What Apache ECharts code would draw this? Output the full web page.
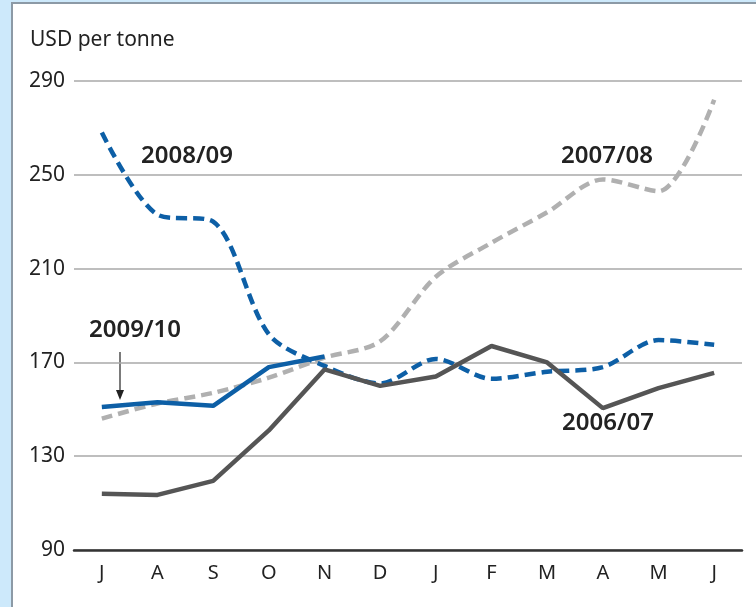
<!DOCTYPE html>
<html>
<head>
<meta charset="utf-8">
<script src="https://cdn.jsdelivr.net/npm/echarts@6/dist/echarts.min.js"></script>
<style>
  html, body { margin: 0; padding: 0; width: 756px; height: 607px; overflow: hidden; background: #cde9fb; }
  #panel { position: absolute; left: 11px; top: 2px; width: 760px; height: 620px; background: #ffffff; border-left: 2px solid #8c9aa6; border-top: 2px solid #8c9aa6; }
  #chart { position: absolute; left: 0; top: 0; width: 756px; height: 607px; }
</style>
</head>
<body>
<div id="panel"></div>
<div id="chart"></div>
<script>
const months = ['J', 'A', 'S', 'O', 'N', 'D', 'J', 'F', 'M', 'A', 'M', 'J'];
const yTicks = [90, 130, 170, 210, 250, 290];
const s2006 = [114, 113.5, 119.5, 141, 167, 160, 164, 177, 170, 150.5, 159, 165.5];
const s2007 = [146, 152.5, 157, 163.5, 172, 179, 206.5, 221, 234, 248, 243, 282];
const s2008 = [268, 233, 230, 182, 168.5, 161, 171.5, 163, 166, 168, 179.5, 177.5];
const s2009 = [151, 153, 151.5, 168, 172.5, null, null, null, null, null, null, null];

const FONT = 'Noto Sans';
const chart = echarts.init(document.getElementById('chart'), null, { renderer: 'canvas' });
chart.setOption({
  backgroundColor: 'transparent',
  animation: false,
  textStyle: { fontFamily: FONT },
  title: { text: 'USD per tonne', left: 25, top: 25, textStyle: { color: '#222', fontSize: 21, fontWeight: 'normal', fontFamily: FONT } },
  grid: { left: 74, right: 14, top: 81, bottom: 57 },
  xAxis: {
    type: 'category',
    data: months,
    boundaryGap: true,
    axisLine: { lineStyle: { color: '#333', width: 2.5 } },
    axisTick: { inside: true, alignWithLabel: true, length: 9, lineStyle: { color: '#333', width: 2 } },
    axisLabel: { color: '#222', fontSize: 20, margin: 13, fontFamily: FONT }
  },
  yAxis: {
    type: 'value',
    min: yTicks[0],
    max: yTicks[yTicks.length - 1],
    interval: 40,
    axisLine: { show: false },
    axisTick: { show: false },
    axisLabel: { color: '#222', fontSize: 21, margin: 9, fontFamily: FONT },
    splitLine: { lineStyle: { color: '#a8a8a8', width: 1.5 } }
  },
  series: [
    { name: '2007/08', type: 'line', data: s2007, smooth: 0.3, symbol: 'none', z: 2,
      lineStyle: { color: '#b0b0b0', width: 4.5, type: [11, 6] } },
    { name: '2008/09', type: 'line', data: s2008, smooth: 0.3, symbol: 'none', z: 3,
      lineStyle: { color: '#0d5fa6', width: 4.5, type: [11, 6] } },
    { name: '2006/07', type: 'line', data: s2006, symbol: 'none', z: 4,
      lineStyle: { color: '#555555', width: 4.5 } },
    { name: '2009/10', type: 'line', data: s2009, symbol: 'none', z: 5,
      lineStyle: { color: '#0d5fa6', width: 4.5 } }
  ],
  graphic: [
    { type: 'text', left: 141, top: 144, style: { text: '2008/09', fontSize: 24, fontWeight: 600, fill: '#222', fontFamily: FONT } },
    { type: 'text', left: 561, top: 144, style: { text: '2007/08', fontSize: 24, fontWeight: 600, fill: '#222', fontFamily: FONT } },
    { type: 'text', left: 89, top: 318, style: { text: '2009/10', fontSize: 24, fontWeight: 600, fill: '#222', fontFamily: FONT } },
    { type: 'text', left: 562, top: 411, style: { text: '2006/07', fontSize: 24, fontWeight: 600, fill: '#222', fontFamily: FONT } },
    { type: 'line', shape: { x1: 120, y1: 352, x2: 120, y2: 394 }, style: { stroke: '#222', lineWidth: 1.2 } },
    { type: 'polygon', shape: { points: [[116, 390], [124, 390], [120, 400]] }, style: { fill: '#222' } }
  ]
});
</script>
</body>
</html>
